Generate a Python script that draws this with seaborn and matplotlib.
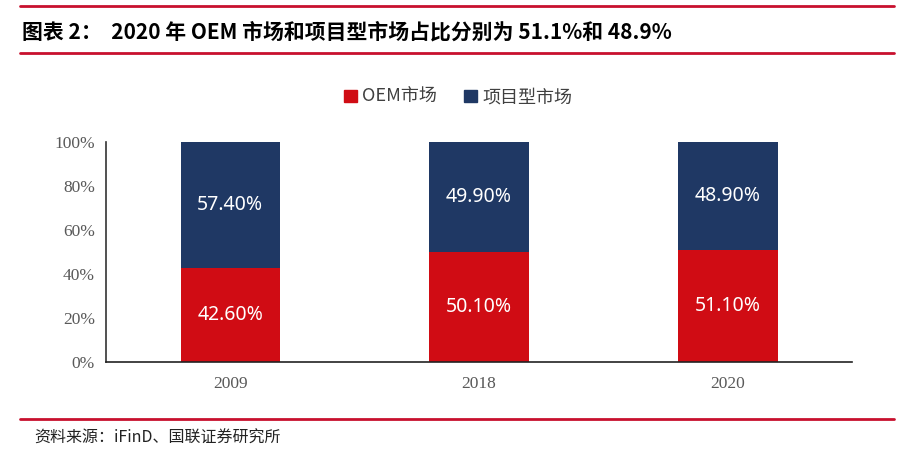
import matplotlib
matplotlib.use("Agg")
import matplotlib.pyplot as plt
import seaborn as sns
import numpy as np
from matplotlib.lines import Line2D
from matplotlib.patches import Patch

# data
years = ["2009", "2018", "2020"]
oem = [42.6, 50.1, 51.1]
project = [57.4, 49.9, 48.9]
series_names = ["OEM市场", "项目型市场"]
yticks = [0, 20, 40, 60, 80, 100]

red = "#D00C14"
navy = "#1F3864"
line_red = "#C8102E"
cjk = ["Noto Sans CJK SC", "DejaVu Sans"]

sns.set_style("white")
plt.rcParams["font.family"] = cjk

fig = plt.figure(figsize=(8.98, 4.63), dpi=100)
ax = fig.add_axes([0.118, 0.218, 0.831, 0.475])

total = np.array(oem) + np.array(project)
sns.barplot(x=years, y=total, color=navy, width=0.4, ax=ax, saturation=1,
            linewidth=0, edgecolor="none")
sns.barplot(x=years, y=oem, color=red, width=0.4, ax=ax, saturation=1,
            linewidth=0, edgecolor="none")

for i in range(len(years)):
    ax.text(i, oem[i] / 2, f"{oem[i]:.2f}%", ha="center", va="center",
            color="white", fontsize=14, family="Noto Sans")
    ax.text(i, oem[i] + project[i] / 2, f"{project[i]:.2f}%", ha="center",
            va="center", color="white", fontsize=14, family="Noto Sans")

ax.set_xlim(-0.5, 2.5)
ax.set_ylim(0, 100)
ax.set_yticks(yticks)
ax.set_yticklabels([f"{v}%" for v in yticks], family="Liberation Serif",
                   fontsize=12.5, color="#595959")
ax.set_xticklabels(years, family="Liberation Serif", fontsize=12.5, color="#595959")
ax.tick_params(axis="y", direction="in", length=4, width=1, color="#333333", pad=8)
ax.tick_params(axis="x", length=0, pad=10)
for s in ["top", "right"]:
    ax.spines[s].set_visible(False)
ax.spines["left"].set_color("#333333")
ax.spines["bottom"].set_color("#222222")
ax.spines["left"].set_linewidth(1.2)
ax.spines["bottom"].set_linewidth(1.2)

handles = [Patch(color=red), Patch(color=navy)]
fig.legend(handles, series_names, loc="center", bbox_to_anchor=(0.51, 0.79),
           ncol=2, frameon=False, fontsize=13, handlelength=0.7,
           handleheight=0.7, handletextpad=0.3, columnspacing=1.5,
           labelcolor="#404040")

# header / footer lines
for y in [0.988, 0.885, 0.095]:
    fig.add_artist(Line2D([0.022, 0.995], [y, y], color=line_red, lw=2))

fig.text(0.024, 0.93, "图表 2：  2020 年 OEM 市场和项目型市场占比分别为 51.1%和 48.9%",
         fontsize=15, fontweight="bold", va="center", ha="left", color="black")
fig.text(0.038, 0.053, "资料来源：iFinD、国联证券研究所", fontsize=11.5,
         va="center", ha="left", color="#222222")

fig.savefig("out.png", dpi=100)
